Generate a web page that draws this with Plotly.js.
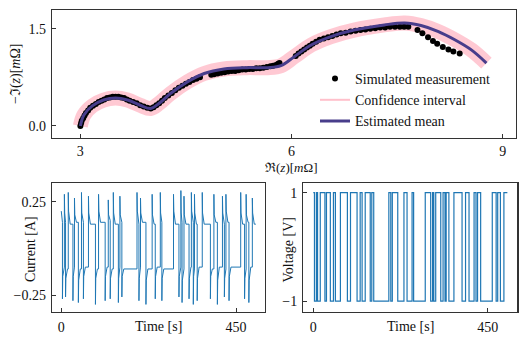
<!DOCTYPE html>
<html>
<head>
<meta charset="utf-8">
<script src="https://cdn.plot.ly/plotly-3.0.1.min.js"></script>
<style>
  html, body { margin: 0; padding: 0; background: #fff; }
  #plotDiv { width: 527px; height: 344px; }
</style>
</head>
<body>
<div id="plotDiv"></div>
<script>
// Nyquist: simulated measurement points [mOhm]
let measReal = [3.00, 3.01, 3.02, 3.04, 3.06, 3.08, 3.11, 3.14, 3.18, 3.22, 3.26, 3.30, 3.34, 3.38, 3.42, 3.46,
  3.50, 3.54, 3.58, 3.62, 3.66, 3.70, 3.75, 3.80, 3.85, 3.90, 3.95, 4.00, 4.04, 4.08, 4.12, 4.16, 4.20,
  4.25, 4.30, 4.35, 4.40, 4.45, 4.50, 4.55, 4.60, 4.65, 4.70, 4.86, 4.90, 4.95, 5.00, 5.05, 5.10, 5.15,
  5.20, 5.25, 5.30, 5.35, 5.40, 5.45, 5.50, 5.55, 5.60, 5.65, 5.70, 5.74, 5.78, 5.81, 5.83, 6.06, 6.10,
  6.14, 6.18, 6.22, 6.26, 6.30, 6.35, 6.40, 6.46, 6.52, 6.58, 6.64, 6.70, 6.77, 6.84, 6.91, 6.98, 7.05,
  7.12, 7.19, 7.26, 7.33, 7.40, 7.47, 7.54, 7.60, 7.66, 7.79, 7.86, 7.94, 8.01, 8.07, 8.15, 8.23, 8.30, 8.39];
let measImag = [0.00, 0.04, 0.08, 0.12, 0.16, 0.20, 0.24, 0.28, 0.31, 0.34, 0.37, 0.39, 0.41, 0.43, 0.44, 0.45,
  0.45, 0.45, 0.44, 0.43, 0.41, 0.39, 0.37, 0.35, 0.32, 0.30, 0.28, 0.27, 0.29, 0.32, 0.35, 0.39, 0.43,
  0.47, 0.51, 0.55, 0.59, 0.62, 0.65, 0.68, 0.71, 0.73, 0.75, 0.79, 0.80, 0.81, 0.82, 0.83, 0.84, 0.85,
  0.85, 0.86, 0.87, 0.87, 0.88, 0.88, 0.89, 0.89, 0.90, 0.91, 0.92, 0.93, 0.94, 0.96, 0.97, 1.08, 1.12,
  1.15, 1.18, 1.21, 1.24, 1.27, 1.30, 1.33, 1.35, 1.37, 1.39, 1.41, 1.43, 1.44, 1.46, 1.47, 1.48, 1.49,
  1.50, 1.51, 1.52, 1.52, 1.53, 1.53, 1.53, 1.53, 1.53, 1.48, 1.43, 1.37, 1.31, 1.27, 1.22, 1.18, 1.15, 1.12];

// Nyquist: estimated mean
let meanReal = [3.00, 3.05, 3.17, 3.33, 3.50, 3.67, 3.85, 4.00, 4.12, 4.28, 4.52, 4.76, 5.04, 5.37, 5.66,
  5.85, 6.04, 6.28, 6.56, 6.89, 7.32, 7.61, 7.84, 8.08, 8.32, 8.56, 8.77];
let meanImag = [0.00, 0.17, 0.31, 0.40, 0.43, 0.40, 0.32, 0.27, 0.35, 0.50, 0.68, 0.81, 0.88, 0.90, 0.90,
  0.93, 1.07, 1.25, 1.38, 1.48, 1.56, 1.59, 1.55, 1.46, 1.33, 1.17, 0.97];

// Excitation: switching times [s] and voltage level after each switch [V]
let segStart = [0, 3, 8, 11, 18, 30, 34, 44, 52, 57, 70, 88, 96, 113, 121, 126, 134, 147, 151, 156,
  195, 200, 204, 218, 234, 242, 255, 259, 289, 303, 308, 311, 316, 329, 335, 340, 343, 350, 363, 384,
  393, 402, 415, 420, 424, 432, 462, 472, 476, 483, 492];
let volLevel = [1, -1, 1, -1, 1, -1, 1, -1, 1, -1, 1, -1, 1, -1, 1, -1, 1, -1, 1, -1,
  1, -1, 1, -1, 1, -1, 1, -1, 1, -1, 1, -1, 1, -1, 1, -1, 1, -1, 1, -1,
  1, -1, 1, -1, 1, -1, 1, -1, 1, -1, 1];
let tEnd = 501;

// Current response per segment [A]: spike, value ~1 s later, settled value
let curPeak = [0.20, -0.27, 0.29, -0.26, 0.30, -0.28, 0.27, -0.29, 0.30, -0.27, 0.28, -0.30, 0.29, -0.28,
  0.26, -0.27, 0.30, -0.29, 0.28, -0.26, 0.30, -0.28, 0.27, -0.30, 0.29, -0.27, 0.30, -0.28, 0.29, -0.26,
  0.31, -0.29, 0.28, -0.27, 0.30, -0.30, 0.29, -0.28, 0.30, -0.27, 0.29, -0.30, 0.28, -0.26, 0.29, -0.28,
  0.30, -0.27, 0.29, -0.29, 0.27];
let curKnee = [0.17, -0.15, 0.19, -0.16, 0.20, -0.15, 0.18, -0.17, 0.19, -0.15, 0.19, -0.16, 0.20, -0.15,
  0.18, -0.16, 0.19, -0.16, 0.18, -0.15, 0.20, -0.16, 0.19, -0.17, 0.18, -0.15, 0.19, -0.16, 0.20, -0.15,
  0.19, -0.17, 0.18, -0.16, 0.20, -0.15, 0.19, -0.16, 0.19, -0.15, 0.18, -0.17, 0.19, -0.16, 0.20, -0.15,
  0.19, -0.16, 0.18, -0.17, 0.19];
let curSettle = [0.14, -0.10, 0.14, -0.11, 0.13, -0.10, 0.14, -0.11, 0.14, -0.10, 0.13, -0.11, 0.14, -0.10,
  0.15, -0.11, 0.13, -0.10, 0.14, -0.11, 0.13, -0.10, 0.14, -0.11, 0.13, -0.10, 0.14, -0.11, 0.13, -0.10,
  0.14, -0.11, 0.13, -0.10, 0.14, -0.11, 0.13, -0.10, 0.13, -0.11, 0.14, -0.10, 0.13, -0.11, 0.14, -0.10,
  0.13, -0.11, 0.14, -0.10, 0.13];

let curX = [], curY = [];
segStart.forEach((t0, i) => {
  let t1 = i + 1 < segStart.length ? segStart[i + 1] : tEnd;
  curX.push(t0, t0 + 0.8, Math.min(t0 + 5, t1), t1);
  curY.push(curPeak[i], curKnee[i], curSettle[i], curSettle[i]);
});
let volX = segStart.concat([tEnd]);
let volY = volLevel.concat([volLevel[volLevel.length - 1]]);

let font = { family: 'Liberation Serif, DejaVu Serif, serif', size: 14, color: '#111' };
let axBase = {
  showline: true, mirror: true, linecolor: '#333', linewidth: 1.3,
  ticks: 'inside', ticklen: 4, tickcolor: '#333', tickwidth: 1,
  showgrid: false, zeroline: false, tickfont: font, ticklabelstandoff: 2,
};

let traces = [
  { x: meanReal, y: meanImag, mode: 'lines', line: { color: 'pink', width: 15, shape: 'spline' },
    opacity: 0.85, showlegend: false, hoverinfo: 'skip', xaxis: 'x', yaxis: 'y' },
  { x: measReal, y: measImag, mode: 'markers', name: 'Simulated measurement',
    marker: { color: 'black', size: 6 }, xaxis: 'x', yaxis: 'y' },
  { x: [null], y: [null], mode: 'lines', name: 'Confidence interval',
    line: { color: 'pink', width: 2 }, xaxis: 'x', yaxis: 'y' },
  { x: meanReal, y: meanImag, mode: 'lines', name: 'Estimated mean',
    line: { color: 'darkslateblue', width: 3, shape: 'spline' }, xaxis: 'x', yaxis: 'y' },
  { x: curX, y: curY, mode: 'lines', line: { color: '#1f77b4', width: 1 },
    showlegend: false, xaxis: 'x2', yaxis: 'y2' },
  { x: volX, y: volY, mode: 'lines', line: { color: '#1f77b4', width: 1.2, shape: 'hv' },
    showlegend: false, xaxis: 'x3', yaxis: 'y3' },
];

function px(x, y) { return { x: x / 527, y: 1 - y / 344 }; }
function label(text, x, y, angle, size) {
  let p = px(x, y);
  return { text: text, x: p.x, y: p.y, xref: 'paper', yref: 'paper', showarrow: false,
    xanchor: 'center', yanchor: 'middle', textangle: angle || 0,
    font: Object.assign({}, font, { size: size || font.size }) };
}

let layout = {
  width: 527, height: 344,
  margin: { l: 0, r: 0, t: 0, b: 0 },
  paper_bgcolor: '#fff', plot_bgcolor: '#fff',
  font: font,
  showlegend: true,
  legend: { x: 315 / 527, y: 1 - 63 / 344, xanchor: 'left', yanchor: 'top',
    bgcolor: 'rgba(0,0,0,0)', font: font, traceorder: 'normal', tracegroupgap: 0 },
  xaxis: Object.assign({}, axBase, { domain: [52 / 527, 516 / 527], range: [2.597, 9.19],
    tickvals: [3, 6, 9], anchor: 'y', ticklabelstandoff: 0 }),
  yaxis: Object.assign({}, axBase, { domain: [1 - 138 / 344, 1 - 10 / 344], range: [-0.186, 1.79],
    tickvals: [0, 1.5], tickformat: '.1f', anchor: 'x' }),
  xaxis2: Object.assign({}, axBase, { domain: [52 / 527, 265 / 527], range: [-23.9, 524.6],
    tickvals: [0, 450], anchor: 'y2' }),
  yaxis2: Object.assign({}, axBase, { domain: [1 - 311.7 / 344, 1 - 183.3 / 344], range: [-0.339, 0.349],
    tickvals: [-0.25, 0.25], anchor: 'x2' }),
  xaxis3: Object.assign({}, axBase, { domain: [303.3 / 527, 517.3 / 527], range: [-25.8, 526.6],
    tickvals: [0, 450], anchor: 'y3' }),
  yaxis3: Object.assign({}, axBase, { domain: [1 - 311.7 / 344, 1 - 183.3 / 344], range: [-1.197, 1.173],
    tickvals: [-1, 1], anchor: 'x3' }),
  annotations: [
    label('ℜ(<i>z</i>)[<i>m</i>Ω]', 291, 167, 0, 13),
    label('−ℑ(<i>z</i>)[<i>m</i>Ω]', 16, 74, -90),
    label('Current [A]', 31, 249, -90),
    label('Time [s]', 158, 326),
    label('Voltage [V]', 287.5, 250, -90),
    label('Time [s]', 410, 326),
  ],
};

Plotly.newPlot('plotDiv', traces, layout, { staticPlot: true });
</script>
</body>
</html>
